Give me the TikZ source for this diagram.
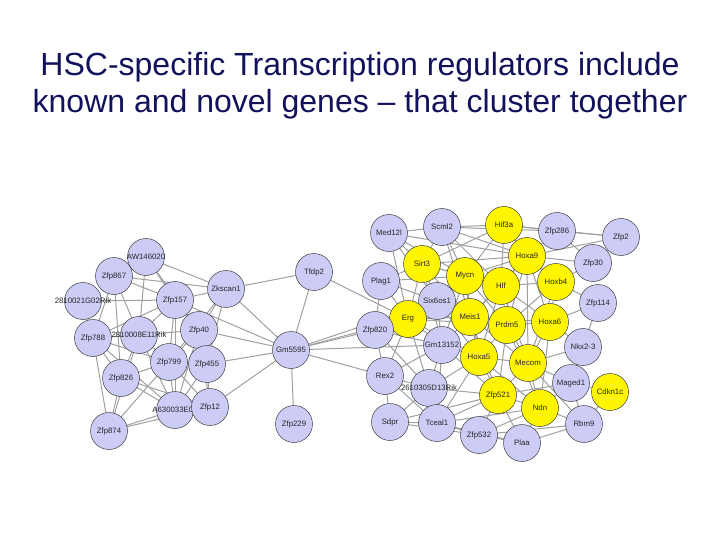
\documentclass[tikz,border=0pt]{standalone}
\usepackage{fontspec}
\setmainfont{Liberation Sans}
\usetikzlibrary{backgrounds}
\definecolor{lav}{RGB}{204,204,247}
\definecolor{yel}{RGB}{255,245,0}
\definecolor{edgegray}{RGB}{160,160,160}
\definecolor{titlecol}{RGB}{18,18,92}
\newcommand{\zw}[1]{\makebox[0pt]{#1}}
\tikzset{
  gene/.style={circle,draw=black!75,line width=0.5pt,minimum size=37pt,inner sep=0pt,font=\fontsize{7.8}{8}\selectfont,text=black!85},
  lgene/.style={gene,fill=lav},
  ygene/.style={gene,fill=yel},
  edge/.style={draw=edgegray,line width=1pt},
  titletext/.style={font=\fontsize{32}{37}\selectfont,text=titlecol,align=center}
}
\begin{document}
\begin{tikzpicture}[x=1pt,y=-1pt]
\useasboundingbox (0,0) rectangle (720,540);
\node[titletext] (title) at (360,86) {HSC-specific Transcription regulators include\\known and novel genes -- that cluster together};
% left cluster
\node[lgene] (aw) at (146,257) {\zw{AW146020}};
\node[lgene] (z867) at (114,276) {Zfp867};
\node[lgene] (r21) at (83,301) {\zw{2810021G02Rik}};
\node[lgene] (z157) at (175,300) {Zfp157};
\node[lgene] (zks) at (226,289) {Zkscan1};
\node[lgene] (z788) at (93,338) {Zfp788};
\node[lgene] (r08) at (139,335) {\zw{2810008E11Rik}};
\node[lgene] (z40) at (199,330) {Zfp40};
\node[lgene] (z799) at (169,362) {Zfp799};
\node[lgene] (z455) at (207,364) {Zfp455};
\node[lgene] (z826) at (121,378) {Zfp826};
\node[lgene] (a63) at (175,410) {\zw{A630033E08}};
\node[lgene] (z12) at (210,407) {Zfp12};
\node[lgene] (z874) at (109,431) {Zfp874};
% middle
\node[lgene] (tfdp) at (314,272) {Tfdp2};
\node[lgene] (gm55) at (291,350) {Gm5595};
\node[lgene] (z229) at (294,424) {Zfp229};
% right cluster
\node[lgene] (med) at (389,233) {Med12l};
\node[lgene] (scml) at (442,227) {Scml2};
\node[ygene] (hif) at (504,225) {Hif3a};
\node[lgene] (z286) at (557,231) {Zfp286};
\node[lgene] (zfp2) at (621,237) {Zfp2};
\node[ygene] (sirt) at (422,264) {Sirt3};
\node[ygene] (mycn) at (465,276) {Mycn};
\node[ygene] (hoxa9) at (527,256) {Hoxa9};
\node[lgene] (z30) at (593,263) {Zfp30};
\node[lgene] (plag) at (381,281) {Plag1};
\node[ygene] (hlf) at (501,286) {Hlf};
\node[ygene] (hoxb4) at (556,282) {Hoxb4};
\node[lgene] (six) at (437,301) {Six6os1};
\node[lgene] (z114) at (598,303) {Zfp114};
\node[ygene] (erg) at (408,319) {Erg};
\node[ygene] (meis) at (470,317) {Meis1};
\node[ygene] (prdm) at (507,325) {Prdm5};
\node[ygene] (hoxa6) at (550,322) {Hoxa6};
\node[lgene] (z820) at (375,330) {Zfp820};
\node[lgene] (gm13) at (442,345) {\zw{Gm13152}};
\node[lgene] (nkx) at (583,347) {Nkx2-3};
\node[ygene] (hoxa5) at (479,357) {Hoxa5};
\node[ygene] (mecom) at (528,363) {Mecom};
\node[lgene] (rex) at (385,376) {Rex2};
\node[lgene] (r26) at (429,388) {\zw{2610305D13Rik}};
\node[lgene] (mag) at (571,383) {Maged1};
\node[ygene] (cdk) at (610,392) {Cdkn1c};
\node[ygene] (z521) at (498,395) {Zfp521};
\node[ygene] (ndn) at (540,408) {Ndn};
\node[lgene] (sdpr) at (390,422) {Sdpr};
\node[lgene] (tce) at (437,423) {Tceal1};
\node[lgene] (rbm) at (584,424) {Rbm9};
\node[lgene] (z532) at (479,435) {Zfp532};
\node[lgene] (plaa) at (522,443) {Plaa};
\begin{pgfonlayer}{background}
\foreach \a/\b in {aw/z867,aw/z157,aw/zks,aw/r08,aw/z40,z867/z157,z867/zks,z867/r08,z867/z788,z867/z826,
  r21/z788,r21/z157,z157/zks,z157/z40,z157/z799,z157/a63,z157/r08,z157/z788,
  zks/z40,zks/z455,zks/z799,zks/gm55,zks/tfdp,z788/r08,z788/z826,z788/z874,z788/z799,z788/a63,
  r08/z40,r08/z826,r08/z799,r08/a63,r08/z874,z40/z799,z40/z455,z40/z12,z40/gm55,z40/a63,
  z799/z455,z799/z826,z799/a63,z799/z12,z799/z874,z455/z12,z455/a63,z455/gm55,
  z826/z874,z826/a63,z826/z12,a63/z874,a63/z12,z12/z874,z12/gm55,z157/gm55,
  gm55/z229,gm55/tfdp,gm55/z820,gm55/rex,gm55/erg,gm55/gm13,gm55/six,tfdp/erg,plag/z820}
  \draw[edge] (\a.center) -- (\b.center);
\foreach \a/\b in {med/scml,med/sirt,med/mycn,med/six,med/erg,med/hoxa9,
  scml/hif,scml/sirt,scml/mycn,scml/hlf,scml/hoxa9,scml/meis,scml/z286,
  hif/z286,hif/hoxa9,hif/mycn,hif/sirt,hif/zfp2,hif/hlf,z286/zfp2,z286/hoxa9,z286/z30,zfp2/z30,zfp2/hoxa9,
  hoxa9/z30,hoxa9/hoxb4,hoxa9/hlf,hoxa9/mycn,hoxa9/meis,hoxa9/prdm,hoxa9/hoxa6,hoxa9/mecom,hoxa9/sirt,z30/hoxb4,
  sirt/mycn,sirt/six,sirt/erg,sirt/meis,sirt/plag,sirt/hlf,sirt/gm13,
  mycn/hlf,mycn/six,mycn/meis,mycn/erg,mycn/prdm,mycn/hoxa5,mycn/gm13,
  plag/erg,plag/six,plag/mycn,hlf/meis,hlf/prdm,hlf/hoxb4,hlf/hoxa6,hlf/mecom,hlf/hoxa5,
  hoxb4/hoxa6,hoxb4/prdm,hoxb4/z114,hoxb4/mecom,six/erg,six/meis,six/gm13,six/hoxa5,six/z820,
  z114/hoxa6,z114/nkx,erg/meis,erg/gm13,erg/z820,erg/hoxa5,erg/rex,erg/prdm,erg/r26,
  meis/prdm,meis/hoxa5,meis/gm13,meis/mecom,meis/z521,meis/hoxa6,
  prdm/hoxa6,prdm/mecom,prdm/hoxa5,prdm/z521,prdm/ndn,hoxa6/mecom,hoxa6/nkx,hoxa6/ndn,
  z820/gm13,z820/rex,z820/r26,gm13/hoxa5,gm13/rex,gm13/r26,gm13/z521,gm13/tce,
  nkx/mecom,nkx/mag,hoxa5/mecom,hoxa5/z521,hoxa5/r26,hoxa5/ndn,hoxa5/tce,
  mecom/z521,mecom/ndn,mecom/mag,mecom/rbm,rex/r26,rex/sdpr,rex/tce,r26/tce,r26/sdpr,r26/z521,
  mag/cdk,mag/ndn,mag/rbm,mag/z521,cdk/rbm,z521/ndn,z521/tce,z521/z532,z521/plaa,z521/sdpr,
  ndn/rbm,ndn/plaa,ndn/z532,ndn/tce,sdpr/tce,sdpr/z532,tce/z532,tce/plaa,rbm/plaa,rbm/z532,z532/plaa}
  \draw[edge] (\a.center) -- (\b.center);
\end{pgfonlayer}
\end{tikzpicture}
\end{document}
